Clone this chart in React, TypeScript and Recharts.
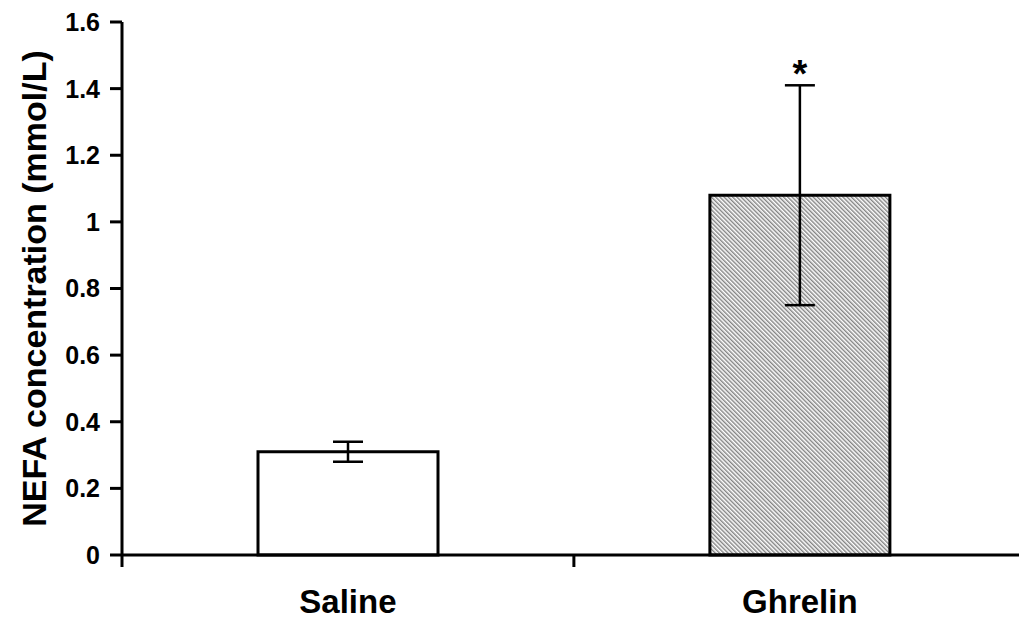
import React from 'react';
import { BarChart, Bar, XAxis, YAxis, ErrorBar, Cell, ReferenceDot, Label } from 'recharts';

const categories = ['Saline', 'Ghrelin'];
const positions = [0.5, 1.5];
const means = [0.31, 1.08];
const errors = [0.03, 0.33];
const significance = ['', '*'];
const yTicks = [0, 0.2, 0.4, 0.6, 0.8, 1, 1.2, 1.4, 1.6];
const xBoundaryTicks = [0, 1];

const data = categories.map((c, i) => ({
  name: c,
  x: positions[i],
  mean: means[i],
  err: errors[i],
  sig: significance[i],
}));

const FONT = '"Liberation Sans", Arial, Helvetica, sans-serif';
const X_TICK_SIZE = 12;
const X_TICK_MARGIN = 23;

const XTick = (props: any) => {
  const { x, y, payload } = props;
  const v = payload.value;
  if (Number.isInteger(v)) {
    return (
      <line
        x1={x}
        x2={x}
        y1={y - X_TICK_MARGIN - X_TICK_SIZE}
        y2={y - X_TICK_MARGIN}
        stroke="#000"
        strokeWidth={3}
      />
    );
  }
  const idx = positions.indexOf(v);
  return (
    <text x={x} y={y} dy="0.71em" textAnchor="middle" fontFamily={FONT} fontWeight={700} fontSize={33} fill="#000">
      {categories[idx]}
    </text>
  );
};

export default function App() {
  const sigIndex = significance.findIndex((s) => s !== '');
  return (
    <div style={{ position: 'absolute', left: 0, top: 0, width: 1019, height: 622, background: '#fff' }}>
      <BarChart width={1019} height={622} data={data} margin={{ top: 22, right: 0, left: 0, bottom: 0 }}>
        <defs>
          <pattern id="hatch" patternUnits="userSpaceOnUse" width={3} height={3} patternTransform="rotate(-45)">
            <rect x={0} y={0} width={3} height={3} fill="#fff" />
            <line x1={0.75} y1={0} x2={0.75} y2={3} stroke="#777" strokeWidth={1.3} />
          </pattern>
        </defs>
        <XAxis
          dataKey="x"
          type="number"
          domain={[0, 1.985]}
          allowDataOverflow
          ticks={[...xBoundaryTicks, ...positions].sort()}
          interval={0}
          height={67}
          tickSize={X_TICK_SIZE}
          tickMargin={X_TICK_MARGIN}
          tickLine={false}
          axisLine={{ stroke: '#000', strokeWidth: 3 }}
          tick={<XTick />}
        />
        <YAxis
          type="number"
          domain={[0, 1.6]}
          ticks={yTicks}
          interval={0}
          width={122}
          tickSize={12}
          tickMargin={10}
          axisLine={{ stroke: '#000', strokeWidth: 3 }}
          tickLine={{ stroke: '#000', strokeWidth: 3 }}
          tick={{ fill: '#000', fontFamily: FONT, fontWeight: 700, fontSize: 25 }}
        >
          <Label
            content={(p: any) => {
              const vb = p.viewBox || { x: 0, y: 22, width: 122, height: 533 };
              const cx = vb.x + 34;
              const cy = vb.y + vb.height / 2;
              return (
                <text
                  x={cx}
                  y={cy}
                  transform={`rotate(-90, ${cx}, ${cy})`}
                  textAnchor="middle"
                  dominantBaseline="central"
                  fontFamily={FONT}
                  fontWeight={700}
                  fontSize={34}
                  fill="#000"
                >
                  NEFA concentration (mmol/L)
                </text>
              );
            }}
          />
        </YAxis>
        <Bar dataKey="mean" barSize={180} stroke="#000" strokeWidth={3} isAnimationActive={false}>
          {data.map((d, i) => (
            <Cell key={d.name} fill={i === 1 ? 'url(#hatch)' : '#fff'} />
          ))}
          <ErrorBar dataKey="err" width={15} stroke="#000" strokeWidth={2.5} direction="y" />
        </Bar>
        {sigIndex >= 0 && (
          <ReferenceDot
            x={positions[sigIndex]}
            y={means[sigIndex] + errors[sigIndex]}
            r={2}
            fill="none"
            stroke="none"
            label={(p: any) => {
              const vb = p.viewBox;
              const cx = vb.x + vb.width / 2;
              const cy = vb.y + vb.height / 2;
              return (
                <text x={cx} y={cy + 2} textAnchor="middle" fontFamily={FONT} fontWeight={700} fontSize={38} fill="#000">
                  {significance[sigIndex]}
                </text>
              );
            }}
          />
        )}
      </BarChart>
    </div>
  );
}
